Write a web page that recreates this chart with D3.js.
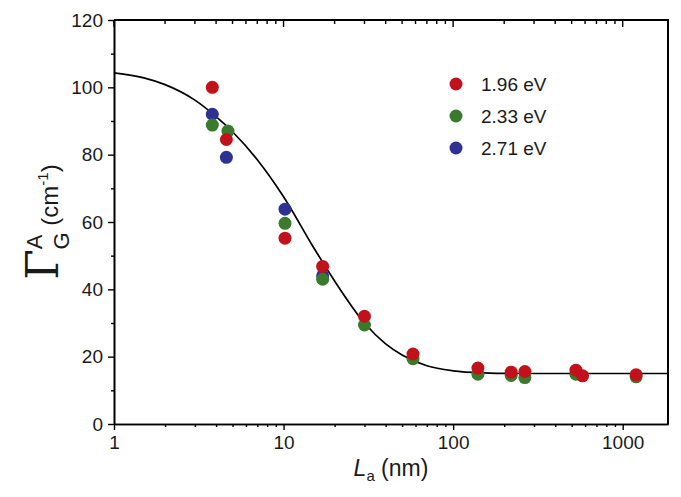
<!DOCTYPE html>
<html><head><meta charset="utf-8">
<script src="https://cdn.jsdelivr.net/npm/d3@7"></script>
<style>body{margin:0;background:#fff;overflow:hidden}svg{display:block}text{font-family:Arial,"Liberation Sans",sans-serif}</style>
</head><body>
<svg id="c" width="681" height="497"></svg>
<script>
var red = [[3.8,100],[4.6,84.5],[10.2,55.2],[17,46.8],[30,32],[58,20.8],[140,16.6],[220,15.4],[265,15.6],[530,16],[580,14.3],[1200,14.6]];
var green = [[3.8,88.8],[4.7,87],[10.2,59.6],[17,43],[30,29.4],[58,19.4],[140,14.8],[220,14.4],[265,13.8],[530,14.8],[1200,14]];
var blue = [[3.8,92],[4.6,79.2],[10.2,63.8],[17,44]];
var fit = [[1,104.3],[1.5,102.8],[2,100.8],[3,96.2],[4,91.3],[5,86.8],[7,78.5],[10,67.5],[15,52.5],[20,42.5],[30,30],[40,23.8],[50,20.5],[70,17.3],[100,15.8],[150,15.2],[250,15],[1850,15]];
var series = [{name:"1.96 eV",color:"#c1121c",data:red},{name:"2.33 eV",color:"#3a7a2c",data:green},{name:"2.71 eV",color:"#2e3192",data:blue}];
var xTicks = [1,10,100,1000], yTicks = [0,20,40,60,80,100,120];

var L=114,R=668,T=20,B=424;
var svg=d3.select("#c");
var x=d3.scaleLog().domain([1,1850]).range([L,R]);
var y=d3.scaleLinear().domain([0,120]).range([B,T]);
var minors=[];
for(var d=1;d<=1000;d*=10)for(var k=2;k<=9;k++)if(d*k<1850)minors.push(d*k);

function ax(g,axis){g.call(axis);g.selectAll("line").style("stroke","#000").style("stroke-width","1.4px");g.select(".domain").style("stroke","#000").style("stroke-width","1.6px");g.selectAll("text").attr("font-size",19).attr("fill","#1a1a1a");}
svg.append("g").attr("transform","translate(0,"+B+")").call(ax,d3.axisBottom(x).tickValues(xTicks).tickFormat(d3.format("d")).tickSize(6).tickPadding(6).tickSizeOuter(0));
svg.append("g").attr("transform","translate(0,"+B+")").call(ax,d3.axisBottom(x).tickValues(minors).tickFormat("").tickSize(3).tickSizeOuter(0));
svg.append("g").attr("transform","translate("+L+",0)").call(ax,d3.axisLeft(y).tickValues(yTicks).tickSize(6).tickPadding(5).tickSizeOuter(0));
svg.append("g").attr("transform","translate("+L+",0)").call(ax,d3.axisLeft(y).tickValues(d3.range(10,120,20)).tickFormat("").tickSize(3).tickSizeOuter(0));
// frame: top and right edges, inward ticks on top
var frame=svg.append("g");
frame.append("rect").attr("x",L).attr("y",T-1).attr("width",R-L+1).attr("height",2).style("fill","#000");
frame.append("rect").attr("x",R-1).attr("y",T-1).attr("width",2).attr("height",B-T+1).style("fill","#000");
frame.selectAll(".mj").data(xTicks).join("rect").attr("class","mj").attr("x",d=>x(d)-0.7).attr("y",T).attr("width",1.4).attr("height",7).style("fill","#000");
frame.selectAll(".mn").data(minors).join("rect").attr("class","mn").attr("x",d=>x(d)-0.7).attr("y",T).attr("width",1.4).attr("height",4).style("fill","#000");

svg.append("path").datum(fit).attr("fill","none").attr("stroke","#000").attr("stroke-width",1.7)
  .attr("d",d3.line().x(d=>x(d[0])).y(d=>y(d[1])).curve(d3.curveMonotoneX));

series.slice().reverse().forEach(function(s){
  svg.append("g").selectAll("circle").data(s.data).join("circle")
    .attr("cx",d=>x(d[0])).attr("cy",d=>y(d[1])).attr("r",6.5).attr("fill",s.color);
});
series.forEach(function(s,i){
  var yy=84+i*32;
  svg.append("circle").attr("cx",456).attr("cy",yy).attr("r",6.5).attr("fill",s.color);
  svg.append("text").attr("x",481).attr("y",yy+7).attr("font-size",19).attr("fill","#1a1a1a").text(s.name);
});

var xl=svg.append("text").attr("x",391).attr("y",476).attr("text-anchor","middle").attr("font-size",23).attr("fill","#1a1a1a");
xl.append("tspan").attr("font-style","italic").text("L");
xl.append("tspan").attr("font-size",15).attr("dy",5).text("a");
xl.append("tspan").attr("dy",-5).text(" (nm)");

var yl=svg.append("g").attr("transform","translate(58,222) rotate(-90)");
var t=yl.append("text").attr("text-anchor","middle").attr("fill","#1a1a1a");
t.append("tspan").attr("font-family","'DejaVu Serif',serif").attr("font-size",44).text("Γ");
t.append("tspan").attr("font-size",22).attr("dy",-16).text("A");
t.append("tspan").attr("font-size",22).attr("dx",-15).attr("dy",27).text("G");
t.append("tspan").attr("font-size",24).attr("dy",-11).text(" (cm");
t.append("tspan").attr("font-size",15).attr("dy",-10).text("-1");
t.append("tspan").attr("font-size",24).attr("dy",10).text(")");
</script>
</body></html>
